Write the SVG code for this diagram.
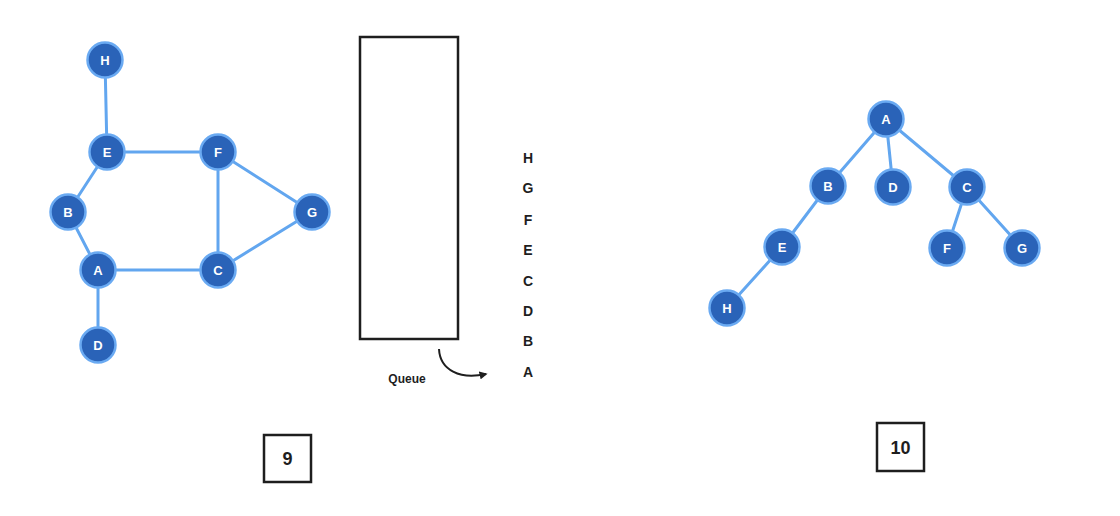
<svg xmlns="http://www.w3.org/2000/svg" width="1120" height="516" viewBox="0 0 1120 516">
<defs>
<marker id="ah" viewBox="0 0 10 10" refX="8" refY="5" markerWidth="8" markerHeight="8" orient="auto-start-reverse" markerUnits="userSpaceOnUse">
<path d="M0,0 L10,5 L0,10 z" fill="#1e1e1e"/>
</marker>
<style>
.n circle{fill:#2a63b8;stroke:#6aaaf2;stroke-width:2.5}
.n text{fill:#ffffff;font-family:"Liberation Sans",Arial,sans-serif;font-size:13px;font-weight:bold;text-anchor:middle}
.e line{stroke:#62a6ef;stroke-width:3;stroke-linecap:round}
.box{fill:none;stroke:#1e1e1e;stroke-width:2.5}
.lbl{fill:#1e1e1e;font-family:"Liberation Sans",Arial,sans-serif;font-size:14px;font-weight:bold;text-anchor:middle}
</style>
</defs>
<rect width="1120" height="516" fill="#ffffff"/>
<g id="connectors" class="e">
<line x1="105" y1="60" x2="107" y2="152"/>
<line x1="107" y1="152" x2="218" y2="152"/>
<line x1="107" y1="152" x2="68" y2="212"/>
<line x1="68" y1="212" x2="98" y2="270"/>
<line x1="98" y1="270" x2="218" y2="270"/>
<line x1="98" y1="270" x2="98" y2="345"/>
<line x1="218" y1="152" x2="218" y2="270"/>
<line x1="218" y1="152" x2="312" y2="212"/>
<line x1="218" y1="270" x2="312" y2="212"/>
<line x1="886" y1="119" x2="828" y2="186"/>
<line x1="886" y1="119" x2="893" y2="187"/>
<line x1="886" y1="119" x2="967" y2="187"/>
<line x1="828" y1="186" x2="782" y2="247"/>
<line x1="782" y1="247" x2="727" y2="308"/>
<line x1="967" y1="187" x2="947" y2="248"/>
<line x1="967" y1="187" x2="1022" y2="248"/>
</g>
<g id="g9-H" class="n"><circle cx="105" cy="60" r="17.5"/><text x="105" y="65">H</text></g>
<g id="g9-E" class="n"><circle cx="107" cy="152" r="17.5"/><text x="107" y="157">E</text></g>
<g id="g9-F" class="n"><circle cx="218" cy="152" r="17.5"/><text x="218" y="157">F</text></g>
<g id="g9-B" class="n"><circle cx="68" cy="212" r="17.5"/><text x="68" y="217">B</text></g>
<g id="g9-G" class="n"><circle cx="312" cy="212" r="17.5"/><text x="312" y="217">G</text></g>
<g id="g9-A" class="n"><circle cx="98" cy="270" r="17.5"/><text x="98" y="275">A</text></g>
<g id="g9-C" class="n"><circle cx="218" cy="270" r="17.5"/><text x="218" y="275">C</text></g>
<g id="g9-D" class="n"><circle cx="98" cy="345" r="17.5"/><text x="98" y="350">D</text></g>
<g id="queue">
<rect class="box" x="360" y="37" width="98" height="302"/>
<text class="lbl" x="407" y="383" style="font-size:12px">Queue</text>
<path d="M439,349 C440,370 460,380 486,374" fill="none" stroke="#1e1e1e" stroke-width="2" marker-end="url(#ah)"/>
</g>
<g id="queue-items" class="lbl">
<text x="528" y="163">H</text>
<text x="528" y="193">G</text>
<text x="528" y="225">F</text>
<text x="528" y="255">E</text>
<text x="528" y="286">C</text>
<text x="528" y="316">D</text>
<text x="528" y="346">B</text>
<text x="528" y="377">A</text>
</g>
<g id="t10-A" class="n"><circle cx="886" cy="119" r="17.5"/><text x="886" y="124">A</text></g>
<g id="t10-B" class="n"><circle cx="828" cy="186" r="17.5"/><text x="828" y="191">B</text></g>
<g id="t10-D" class="n"><circle cx="893" cy="187" r="17.5"/><text x="893" y="192">D</text></g>
<g id="t10-C" class="n"><circle cx="967" cy="187" r="17.5"/><text x="967" y="192">C</text></g>
<g id="t10-E" class="n"><circle cx="782" cy="247" r="17.5"/><text x="782" y="252">E</text></g>
<g id="t10-F" class="n"><circle cx="947" cy="248" r="17.5"/><text x="947" y="253">F</text></g>
<g id="t10-G" class="n"><circle cx="1022" cy="248" r="17.5"/><text x="1022" y="253">G</text></g>
<g id="t10-H" class="n"><circle cx="727" cy="308" r="17.5"/><text x="727" y="313">H</text></g>
<g id="label9">
<rect class="box" x="264" y="435" width="47" height="47"/>
<text class="lbl" x="287.5" y="465" style="font-size:18px">9</text>
</g>
<g id="label10">
<rect class="box" x="877" y="423" width="47" height="48"/>
<text class="lbl" x="900.5" y="454" style="font-size:18px">10</text>
</g>
</svg>
